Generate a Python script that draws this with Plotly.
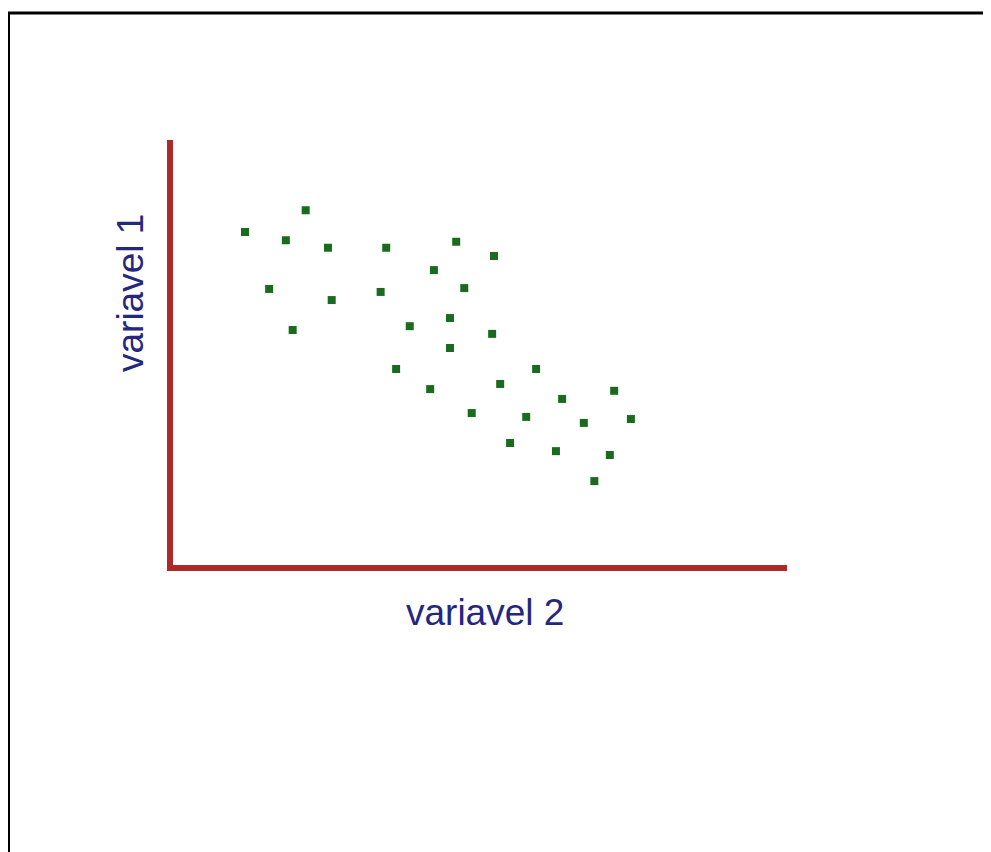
import plotly.graph_objects as go

# values (no ticks in the original, so 0-100 scale on both axes)
variavel_2 = [12.3, 22.1, 18.9, 25.7, 35.1, 46.4, 52.5, 42.8, 16.2, 26.3,
              34.2, 47.7, 20.0, 38.9, 45.4, 52.2, 45.4, 36.7, 42.2, 53.5,
              59.3, 63.5, 71.9, 48.9, 57.7, 67.0, 74.6, 55.1, 62.5, 71.2, 68.7]
variavel_1 = [78.5, 83.6, 76.6, 74.8, 74.8, 76.2, 72.9, 69.6, 65.2, 62.6,
              64.5, 65.4, 55.6, 56.5, 58.4, 54.7, 51.4, 46.5, 41.8, 43.0,
              46.5, 39.5, 41.4, 36.2, 35.3, 33.9, 34.8, 29.2, 27.3, 26.4, 20.3]
x_label = "variavel 2"
y_label = "variavel 1"

# page has an 8px body margin, so the figure is a bit smaller than the window
W, H = 983, 844
red = "#ad2a2a"
navy = "#25267f"

fig = go.Figure()
fig.add_trace(go.Scatter(
    x=variavel_2,
    y=variavel_1,
    mode="markers",
    marker=dict(symbol="square", size=8, color="#1a6b1f", line=dict(width=0)),
    hoverinfo="skip",
))

fig.update_layout(
    width=W,
    height=H,
    margin=dict(l=0, r=0, t=0, b=0),
    paper_bgcolor="white",
    plot_bgcolor="white",
    showlegend=False,
    xaxis=dict(
        domain=[164.5 / W, 779 / W],
        range=[0.6, 99.8],
        showline=True, linecolor=red, linewidth=6,
        showgrid=False, zeroline=False, showticklabels=False, ticks="",
    ),
    yaxis=dict(
        domain=[1 - 557 / H, 1 - 132 / H],
        range=[0.7, 100],
        showline=True, linecolor=red, linewidth=6,
        showgrid=False, zeroline=False, showticklabels=False, ticks="",
    ),
    font=dict(family="Liberation Sans, Arial, sans-serif"),
)

fig.add_annotation(
    text=x_label, xref="paper", yref="paper",
    x=477 / W, y=1 - 604 / H, showarrow=False,
    font=dict(size=37, color=navy), xanchor="center", yanchor="middle",
)
fig.add_annotation(
    text=y_label, xref="paper", yref="paper",
    x=122 / W, y=1 - 285 / H, showarrow=False, textangle=-90,
    font=dict(size=37, color=navy), xanchor="center", yanchor="middle",
)

# black frame on top and left
fig.add_shape(type="line", xref="paper", yref="paper",
              x0=0, x1=1, y0=1 - 5 / H, y1=1 - 5 / H,
              line=dict(color="black", width=3))
fig.add_shape(type="line", xref="paper", yref="paper",
              x0=0.5 / W, x1=0.5 / W, y0=0, y1=1 - 4 / H,
              line=dict(color="black", width=3))

fig.write_html("out.html")
